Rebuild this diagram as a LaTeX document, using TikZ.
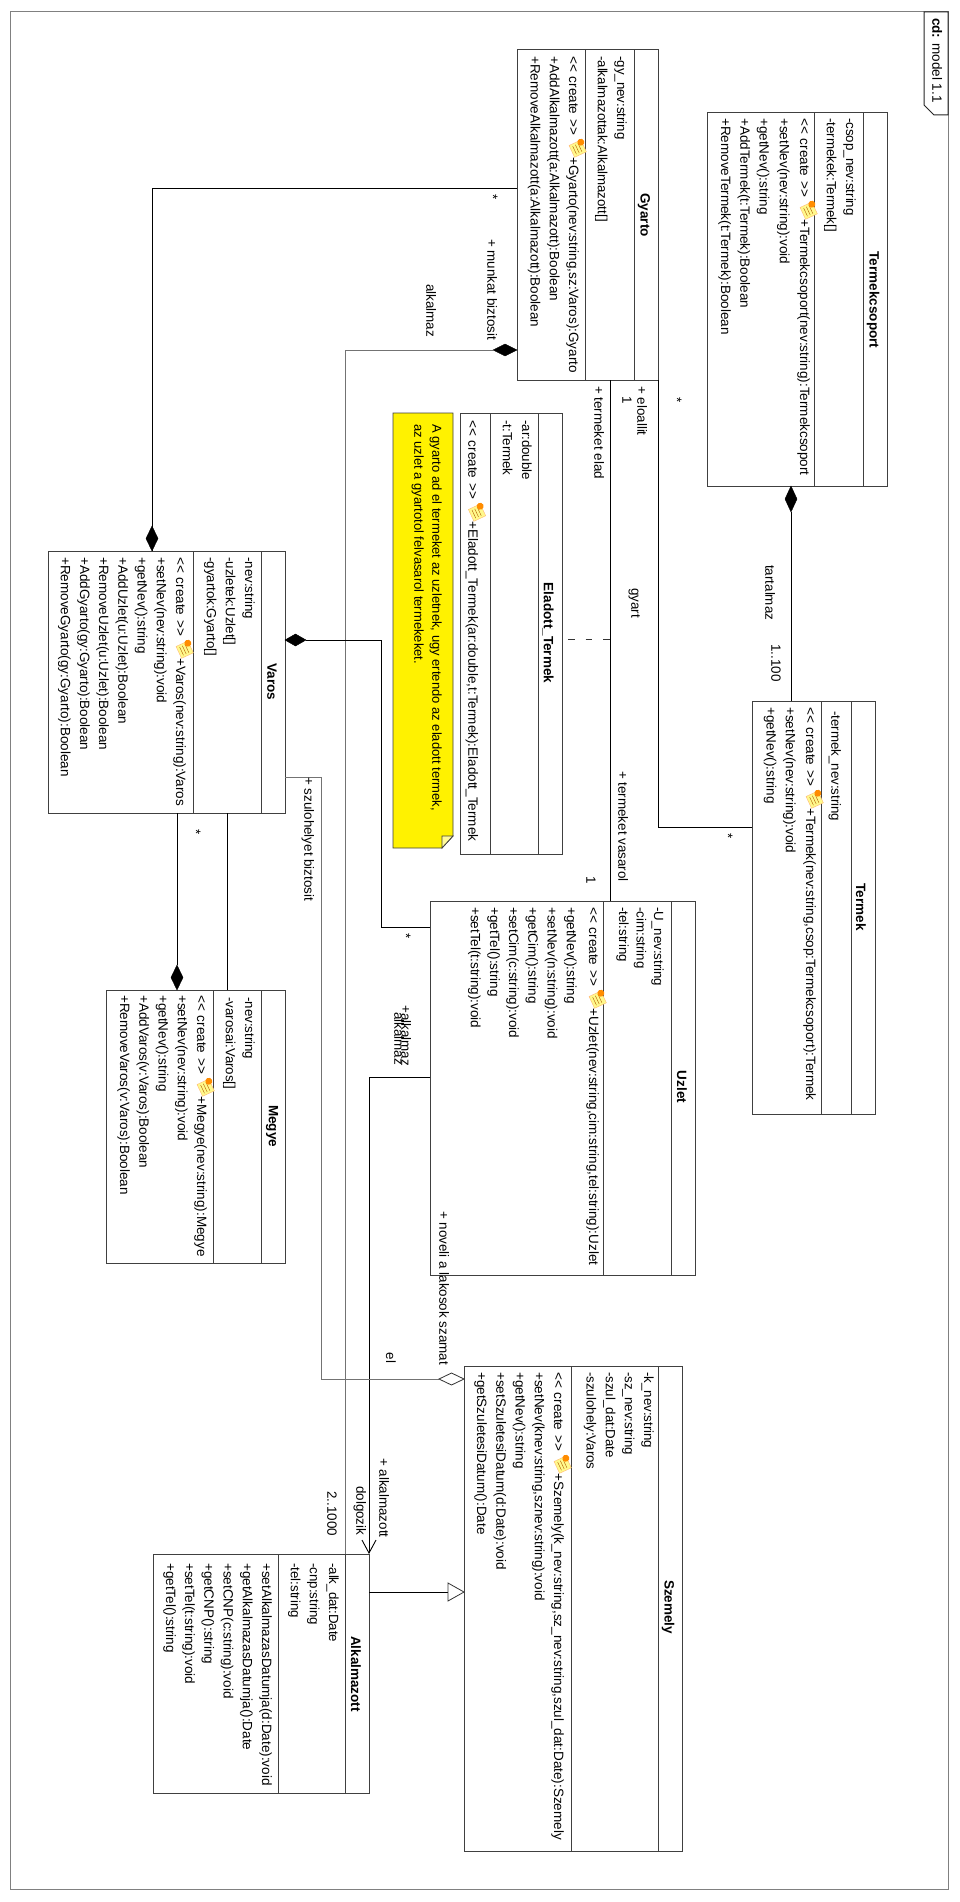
\documentclass[tikz,border=0pt]{standalone}
\usepackage{fontspec}
\setmainfont{Liberation Sans}
\usetikzlibrary{positioning}
\usetikzlibrary{arrows.meta}

% small scroll shown before each constructor
\newcommand{\createicon}{\hspace{3pt}\smash{\tikz[x=1pt,y=1pt,baseline=-5.5pt,rotate=25]{
    \fill[yellow!45!white, draw=orange!55!white, line width=0.4pt] (0,-6) rectangle (13,7);
    \draw[orange!70!black, line width=0.4pt] (2,-3) -- (11,-3) (2,0) -- (11,0) (2,3) -- (11,3);
    \fill[orange!90!yellow] (2,6) circle (3.5pt);
}}}
\newcommand{\createtag}{<{}<\hspace{5pt}create\hspace{5pt}>{}>}

\tikzset{
    classbox/.style={draw=black!75, line width=1pt, fill=white, inner sep=0pt, rectangle},
    classname/.style={rotate=-90, inner sep=0pt, font=\fontsize{13.5}{15}\selectfont\bfseries},
    attrs/.style={rotate=-90, anchor=north west, inner sep=0pt, align=left,
        execute at begin node=\strut, font=\fontsize{13.3}{19.2}\selectfont},
    ops/.style={rotate=-90, anchor=north west, inner sep=0pt, align=left,
        execute at begin node=\strut, font=\fontsize{13.5}{19.2}\selectfont},
    lbl/.style={rotate=-90, inner sep=0pt, font=\fontsize{13.4}{15}\selectfont},
    divider/.style={draw=black!75, line width=1pt},
    assoc/.style={draw=black, line width=0.9pt},
    thinassoc/.style={draw=black!55, line width=0.8pt},
    solidmark/.style={fill=black, draw=black},
}

\begin{document}
\begin{tikzpicture}[x=1pt, y=-1pt]
    \useasboundingbox (0,0) rectangle (960,1902);
    \fill[white] (0,0) rectangle (960,1902);

    % frame
    \draw[black!50, line width=1pt] (10,12) rectangle (948,1889);
    \draw[black!85, line width=1pt, fill=white] (948,12) -- (924,12) -- (924,105) -- (934,115) -- (948,115) -- cycle;
    \node[rotate=-90, inner sep=0pt, anchor=mid west, font=\fontsize{13.5}{15}\selectfont] (tab) at (935,18) {\textbf{cd:} model 1.1};

    % classes
    \node[classbox, minimum width=180pt, minimum height=373pt] (termekcsoport) at (797,299.5) {};
    \draw[divider] (863,113) -- (863,486) (814,113) -- (814,486);
    \node[classname] (termekcsoport-name) at (873,300) {Termekcsoport};
    \node[attrs] (termekcsoport-attrs) at (856,118) {-csop\_nev:string\\-termekek:Termek[]};
    \node[ops] (termekcsoport-ops) at (810,118) {\createtag\createicon+Termekcsoport(nev:string):Termekcsoport\\[1pt]+setNev(nev:string):void\\[1pt]+getNev():string\\+AddTermek(t:Termek):Boolean\\+RemoveTermek(t:Termek):Boolean};

    \node[classbox, minimum width=141pt, minimum height=330pt] (gyarto) at (587.5,215) {};
    \draw[divider] (634,50) -- (634,380) (585,50) -- (585,380);
    \node[classname] (gyarto-name) at (644,215) {Gyarto};
    \node[attrs] (gyarto-attrs) at (627,56) {-gy\_nev:string\\-alkalmazottak:Alkalmazott[]};
    \node[ops] (gyarto-ops) at (579,56) {\createtag\createicon+Gyarto(nev:string,sz:Varos):Gyarto\\+AddAlkalmazott(a:Alkalmazott):Boolean\\+RemoveAlkalmazott(a:Alkalmazott):Boolean};

    \node[classbox, minimum width=102pt, minimum height=441pt] (eladott) at (511,633.5) {};
    \draw[divider] (538,413) -- (538,854) (490,413) -- (490,854);
    \node[classname] (eladott-name) at (548,633) {Eladott\_Termek};
    \node[attrs] (eladott-attrs) at (532,420) {-ar:double\\-t:Termek};
    \node[ops] (eladott-ops) at (482,420) {\createtag\createicon+Eladott\_Termek(ar:double,t:Termek):Eladott\_Termek};

    \node[classbox, minimum width=123.5pt, minimum height=413pt] (termek) at (813.75,907.5) {};
    \draw[divider] (851,701) -- (851,1114) (821,701) -- (821,1114);
    \node[classname] (termek-name) at (861,907) {Termek};
    \node[attrs] (termek-attrs) at (845,711) {-termek\_nev:string};
    \node[ops] (termek-ops) at (816,707) {\createtag\createicon+Termek(nev:string,csop:Termekcsoport):Termek\\[1pt]+setNev(nev:string):void\\+getNev():string};

    \node[classbox, minimum width=265pt, minimum height=374pt] (uzlet) at (562.5,1088) {};
    \draw[divider] (671,901) -- (671,1275) (603,901) -- (603,1275);
    \node[classname] (uzlet-name) at (682,1087) {Uzlet};
    \node[attrs] (uzlet-attrs) at (664,907) {-U\_nev:string\\[-1.7pt]-cim:string\\[-1.7pt]-tel:string};
    \node[ops] (uzlet-ops) at (599,907) {\createtag\createicon+Uzlet(nev:string,cim:string,tel:string):Uzlet\\[3pt]+getNev():string\\+setNev(n:string):void\\+getCim():string\\+setCim(c:string):void\\+getTel():string\\+setTel(t:string):void};

    \node[classbox, minimum width=237pt, minimum height=262pt] (varos) at (166.5,682) {};
    \draw[divider] (261,551) -- (261,813) (193,551) -- (193,813);
    \node[classname] (varos-name) at (272,682) {Varos};
    \node[attrs] (varos-attrs) at (255,557) {-nev:string\\-uzletek:Uzlet[]\\-gyartok:Gyarto[]};
    \node[ops] (varos-ops) at (186,557) {\createtag\createicon+Varos(nev:string):Varos\\+setNev(nev:string):void\\+getNev():string\\+AddUzlet(u:Uzlet):Boolean\\+RemoveUzlet(u:Uzlet):Boolean\\+AddGyarto(gy:Gyarto):Boolean\\+RemoveGyarto(gy:Gyarto):Boolean};

    \node[classbox, minimum width=179pt, minimum height=273pt] (megye) at (195.5,1126.5) {};
    \draw[divider] (261,990) -- (261,1263) (213,990) -- (213,1263);
    \node[classname] (megye-name) at (272,1126) {Megye};
    \node[attrs] (megye-attrs) at (255,997) {-nev:string\\-varosai:Varos[]};
    \node[ops] (megye-ops) at (207,995) {\createtag\createicon+Megye(nev:string):Megye\\+setNev(nev:string):void\\+getNev():string\\+AddVaros(v:Varos):Boolean\\+RemoveVaros(v:Varos):Boolean};

    \node[classbox, minimum width=218pt, minimum height=485pt] (szemely) at (573,1608.5) {};
    \draw[divider] (658,1366) -- (658,1851) (571,1366) -- (571,1851);
    \node[classname] (szemely-name) at (668,1607) {Szemely};
    \node[attrs] (szemely-attrs) at (654,1372) {-k\_nev:string\\-sz\_nev:string\\-szul\_dat:Date\\-szulohely:Varos};
    \node[ops] (szemely-ops) at (564,1372) {\createtag\createicon+Szemely(k\_nev:string,sz\_nev:string,szul\_dat:Date):Szemely\\+setNev(knev:string,sznev:string):void\\+getNev():string\\+setSzuletesiDatum(d:Date):void\\+getSzuletesiDatum():Date};

    \node[classbox, minimum width=216pt, minimum height=239pt] (alkalmazott) at (261,1673.5) {};
    \draw[divider] (345,1554) -- (345,1793) (278,1554) -- (278,1793);
    \node[classname] (alkalmazott-name) at (356,1674) {Alkalmazott};
    \node[attrs] (alkalmazott-attrs) at (339,1563) {-alk\_dat:Date\\-cnp:string\\-tel:string};
    \node[ops] (alkalmazott-ops) at (272,1563) {+setAlkalmazasDatumja(d:Date):void\\+getAlkalmazasDatumja():Date\\+setCNP(c:string):void\\+getCNP():string\\+setTel(t:string):void\\+getTel():string};

    % note
    \fill[yellow] (393,413) -- (453,413) -- (453,836) -- (442,848) -- (393,848) -- cycle;
    \draw[black!75, line width=0.8pt] (393,413) -- (453,413) -- (453,836) -- (442,848) -- (393,848) -- cycle;
    \draw[black!75, fill=yellow!40!white, line width=0.8pt] (453,836) -- (442,836) -- (442,848) -- cycle;
    \node[rotate=-90, anchor=north west, inner sep=0pt, align=left, execute at begin node=\strut,
        font=\fontsize{13}{18}\selectfont] (note) at (442,424) {A gyarto ad el termeket az uzletnek, ugy ertendo az eladott termek,\\az uzlet a gyartotol felvasarol termekeket.};

    % connection points
    \coordinate (gv1) at (517,188);
    \coordinate (gv2) at (152,551);
    \coordinate (ga1) at (493,350);
    \coordinate (ga2) at (345,1554);
    \coordinate (gt1) at (658,380);
    \coordinate (gt2) at (752,827);
    \coordinate (gu1) at (610,380);
    \coordinate (gu2) at (610,901);
    \coordinate (tt1) at (791,512);
    \coordinate (tt2) at (791,701);
    \coordinate (vu1) at (306,640);
    \coordinate (vu2) at (430,927);
    \coordinate (us1) at (430,1077);
    \coordinate (us2) at (369,1554);
    \coordinate (vs1) at (285,777);
    \coordinate (vs2) at (439,1379);
    \coordinate (vm1) at (227,813);
    \coordinate (vm2) at (227,990);
    \coordinate (vm3) at (177,813);
    \coordinate (vm4) at (177,965);
    \coordinate (as1) at (369,1592);
    \coordinate (as2) at (448,1592);
    \coordinate (ac1) at (568,639);
    \coordinate (ac2) at (610,639);

    % connectors
    \draw[assoc] (gv1) -| (gv2);
    \draw[thinassoc] (ga1) -| (ga2);
    \draw[assoc] (gt1) |- (gt2);
    \draw[assoc] (gu1) -- (gu2);
    \draw[assoc] (tt1) -- (tt2);
    \draw[assoc] (vu1) -| (381,927) -- (vu2);
    \draw[assoc, -{Straight Barb[length=13pt,width=14pt]}] (us1) -| (us2);
    \draw[thinassoc] (vs1) -| (321,1379) -- (vs2);
    \draw[assoc] (vm1) -- (vm2);
    \draw[assoc] (vm3) -- (vm4);
    \draw[assoc] (as1) -- (as2);
    \draw[black!80, line width=1pt, dash pattern=on 6.5pt off 11pt] (ac1) -- (ac2);

    % diamonds and triangle
    \fill[solidmark] (791,486) -- (797,499) -- (791,512) -- (785,499) -- cycle;
    \fill[solidmark] (517,350) -- (505,344) -- (493,350) -- (505,356) -- cycle;
    \fill[solidmark] (152,551) -- (146,538.5) -- (152,526) -- (158,538.5) -- cycle;
    \fill[solidmark] (285,640) -- (295.5,634) -- (306,640) -- (295.5,646) -- cycle;
    \fill[solidmark] (177,990) -- (171,977.5) -- (177,965) -- (183,977.5) -- cycle;
    \draw[black!80, fill=white, line width=0.8pt] (464,1379) -- (451.5,1373) -- (439,1379) -- (451.5,1385) -- cycle;
    \draw[black!80, fill=white, line width=0.8pt] (464,1592) -- (448,1583) -- (448,1601) -- cycle;

    % association labels
    \node[lbl] (l1) at (493,197) {*};
    \node[lbl, anchor=mid west] (l2) at (490,239) {+ munkat biztosit};
    \node[lbl, anchor=mid west] (l3) at (429,284) {alkalmaz};
    \node[lbl, anchor=mid west] (l4) at (640,386) {+ eloallit};
    \node[lbl] (l5) at (627,400) {1};
    \node[lbl, anchor=mid west] (l6) at (597,386) {+ termeket elad};
    \node[lbl, anchor=mid west] (l7) at (634,588) {gyart};
    \node[lbl] (l8) at (677,400) {*};
    \node[lbl, anchor=mid west] (l9) at (768,565) {tartalmaz};
    \node[lbl, anchor=mid west] (l10) at (774,644) {1..100};
    \node[lbl] (l11) at (728,836) {*};
    \node[lbl, anchor=mid west] (l12) at (621,771) {+ termeket vasarol};
    \node[lbl] (l13) at (591,880) {1};
    \node[lbl] (l14) at (406,936) {*};
    \node[lbl, anchor=mid west] (l15) at (404,1005) {+alkalmaz};
    \node[lbl, anchor=mid west] (l16) at (397,1012) {alkalmaz};
    \node[lbl, anchor=mid west] (l17) at (442,1211) {+ noveli a lakosok szamat};
    \node[lbl] (l18) at (391,1358) {el};
    \node[lbl, anchor=mid west] (l19) at (382,1458) {+ alkalmazott};
    \node[lbl, anchor=mid west] (l20) at (359,1486) {dolgozik};
    \node[lbl, anchor=mid west] (l21) at (330,1491) {2..1000};
    \node[lbl, anchor=mid west] (l22) at (307,777) {+ szulohelyet biztosit};
    \node[lbl] (l23) at (196,832) {*};
\end{tikzpicture}
\end{document}
